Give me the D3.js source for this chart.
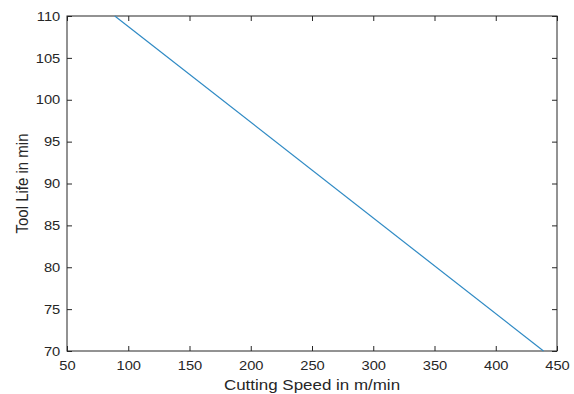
<!DOCTYPE html>
<html>
<head>
<meta charset="utf-8">
<script src="https://cdn.jsdelivr.net/npm/d3@7"></script>
<style>
  body { margin: 0; background: #fff; }
  text { font-family: "Liberation Sans", Arial, sans-serif; fill: #262626; }
</style>
</head>
<body>
<script>
// speed vs tool life
var speeds = [89, 439];
var toolLife = [110, 70];
var xTicks = [50, 100, 150, 200, 250, 300, 350, 400, 450];
var yTicks = [70, 75, 80, 85, 90, 95, 100, 105, 110];

var svgWidth = 574, svgHeight = 394;
var margin = { top: 16, right: 17, bottom: 43, left: 67 };
var width = svgWidth - margin.left - margin.right;
var height = svgHeight - margin.top - margin.bottom;
var stretch = 1.13; // the original figure is a bit wider than tall

var svg = d3.select("body").append("svg").attr("width", svgWidth).attr("height", svgHeight);
var chartGroup = svg.append("g").attr("transform", `translate(${margin.left}, ${margin.top})`);

var x = d3.scaleLinear().domain([50, 450]).range([0, width]);
var y = d3.scaleLinear().domain([70, 110]).range([height, 0]);

var axisColor = "#262626";

function styleAxis(g) {
  g.select(".domain").remove();
  g.selectAll("line").attr("stroke", axisColor);
  g.selectAll("text").attr("font-size", "13px").style("fill", axisColor)
    .attr("transform", `scale(${stretch},1)`);
}

// bottom / left with labels, inward ticks
chartGroup.append("g")
  .attr("transform", `translate(0, ${height})`)
  .call(d3.axisBottom(x).tickValues(xTicks).tickSize(-5).tickPadding(10))
  .call(styleAxis);
chartGroup.append("g")
  .call(d3.axisLeft(y).tickValues(yTicks).tickSize(-5).tickPadding(6))
  .call(styleAxis);
// top / right mirror ticks
chartGroup.append("g")
  .call(d3.axisTop(x).tickValues(xTicks).tickSize(-5).tickFormat(""))
  .call(styleAxis);
chartGroup.append("g")
  .attr("transform", `translate(${width}, 0)`)
  .call(d3.axisRight(y).tickValues(yTicks).tickSize(-5).tickFormat(""))
  .call(styleAxis);

chartGroup.append("rect")
  .attr("width", width).attr("height", height)
  .attr("fill", "none").attr("stroke", axisColor).attr("stroke-width", 1);

var pts = speeds.map((s, i) => [s, toolLife[i]]);
chartGroup.append("path")
  .datum(pts)
  .attr("d", d3.line().x(d => x(d[0])).y(d => y(d[1])))
  .attr("fill", "none")
  .attr("stroke", "#2f8ac4")
  .attr("stroke-width", 1.2);

svg.append("text")
  .attr("transform", `translate(${margin.left + width / 2}, 390) scale(${stretch},1)`)
  .attr("text-anchor", "middle").attr("font-size", "15px")
  .text("Cutting Speed in m/min");
svg.append("text")
  .attr("transform", `translate(28, ${margin.top + height / 2}) scale(${stretch},1) rotate(-90)`)
  .attr("text-anchor", "middle").attr("font-size", "15px")
  .text("Tool Life in min");
</script>
</body>
</html>
